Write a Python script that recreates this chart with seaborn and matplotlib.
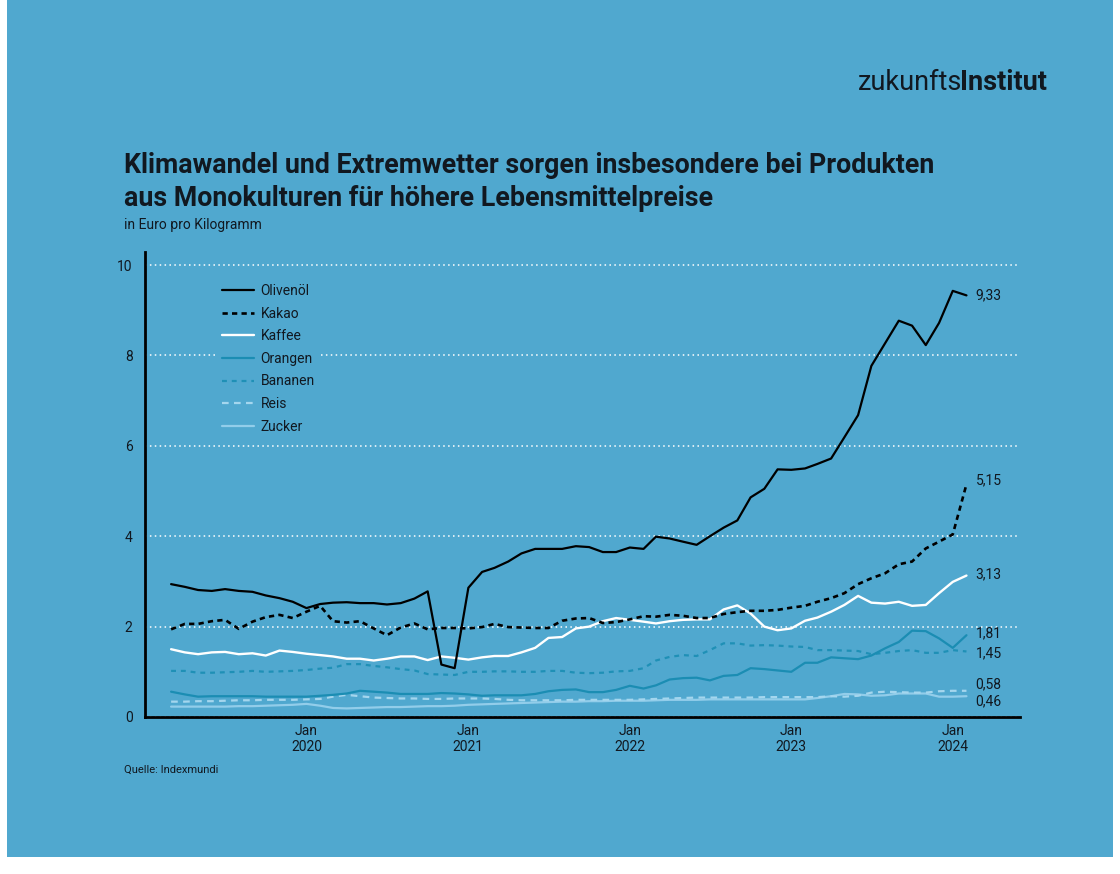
import pandas as pd
import numpy as np
import matplotlib
matplotlib.use("Agg")
import matplotlib.pyplot as plt
from matplotlib.patches import Rectangle
import seaborn as sns

# --------------------------------------------------------------
# data: monthly prices in Euro per kg, Mar 2019 .. Feb 2024
# --------------------------------------------------------------
months = pd.date_range("2019-03-01", periods=60, freq="MS")

olivenoel = [2.94, 2.88, 2.81, 2.79, 2.83, 2.79, 2.77, 2.69, 2.63, 2.55,
             2.41, 2.50, 2.53, 2.54, 2.52, 2.52, 2.49, 2.52, 2.62, 2.78, 1.16, 1.08,
             2.86, 3.21, 3.30, 3.44, 3.62, 3.72, 3.72, 3.72, 3.78, 3.76, 3.65, 3.65,
             3.75, 3.72, 3.99, 3.95, 3.88, 3.81, 4.00, 4.19, 4.35, 4.86, 5.05, 5.48,
             5.47, 5.50, 5.60, 5.72, 6.19, 6.68, 7.77, 8.27, 8.77, 8.66, 8.23, 8.72,
             9.43, 9.33]
kakao = [1.94, 2.06, 2.06, 2.12, 2.15, 1.95, 2.11, 2.21, 2.26, 2.19,
         2.33, 2.46, 2.12, 2.09, 2.12, 1.96, 1.81, 1.98, 2.07, 1.94, 1.97, 1.97,
         1.96, 1.99, 2.06, 1.99, 1.98, 1.97, 1.97, 2.13, 2.18, 2.19, 2.08, 2.10,
         2.16, 2.23, 2.22, 2.26, 2.24, 2.19, 2.19, 2.28, 2.32, 2.35, 2.35, 2.37,
         2.42, 2.46, 2.55, 2.63, 2.74, 2.94, 3.07, 3.18, 3.38, 3.44, 3.73, 3.88,
         4.04, 5.15]
kaffee = [1.50, 1.43, 1.39, 1.43, 1.44, 1.39, 1.41, 1.36, 1.47, 1.44,
          1.40, 1.37, 1.34, 1.29, 1.29, 1.25, 1.29, 1.34, 1.34, 1.26, 1.34, 1.31,
          1.27, 1.32, 1.35, 1.35, 1.43, 1.53, 1.75, 1.77, 1.96, 2.00, 2.12, 2.19,
          2.15, 2.11, 2.07, 2.12, 2.15, 2.16, 2.16, 2.38, 2.47, 2.29, 2.00, 1.92,
          1.96, 2.13, 2.20, 2.33, 2.48, 2.68, 2.53, 2.51, 2.55, 2.46, 2.48, 2.74,
          2.99, 3.13]
orangen = [0.56, 0.50, 0.45, 0.46, 0.46, 0.46, 0.46, 0.45, 0.45, 0.45,
           0.45, 0.47, 0.49, 0.52, 0.58, 0.56, 0.54, 0.51, 0.51, 0.51, 0.53, 0.52,
           0.50, 0.47, 0.48, 0.48, 0.48, 0.51, 0.57, 0.60, 0.61, 0.55, 0.55, 0.60,
           0.69, 0.63, 0.70, 0.83, 0.86, 0.87, 0.81, 0.91, 0.93, 1.08, 1.06, 1.03,
           1.00, 1.20, 1.20, 1.32, 1.30, 1.28, 1.36, 1.52, 1.66, 1.91, 1.90, 1.74,
           1.53, 1.81]
bananen = [1.02, 1.02, 0.98, 0.98, 0.99, 1.00, 1.02, 1.00, 1.01, 1.02,
           1.04, 1.07, 1.09, 1.17, 1.17, 1.13, 1.10, 1.06, 1.03, 0.95, 0.94, 0.93,
           1.00, 1.00, 1.01, 1.01, 1.00, 1.00, 1.02, 1.02, 0.98, 0.97, 0.98, 1.01,
           1.02, 1.08, 1.25, 1.33, 1.37, 1.35, 1.48, 1.63, 1.63, 1.58, 1.59, 1.58,
           1.56, 1.55, 1.48, 1.48, 1.47, 1.46, 1.39, 1.42, 1.46, 1.48, 1.42, 1.42,
           1.48, 1.45]
reis = [0.34, 0.34, 0.35, 0.35, 0.36, 0.37, 0.37, 0.38, 0.38, 0.38,
        0.39, 0.40, 0.45, 0.49, 0.46, 0.43, 0.42, 0.41, 0.41, 0.40, 0.40, 0.41,
        0.41, 0.41, 0.40, 0.38, 0.37, 0.37, 0.37, 0.37, 0.38, 0.38, 0.38, 0.38,
        0.38, 0.39, 0.40, 0.41, 0.42, 0.43, 0.43, 0.43, 0.43, 0.43, 0.44, 0.44,
        0.44, 0.44, 0.44, 0.46, 0.45, 0.47, 0.54, 0.56, 0.55, 0.54, 0.54, 0.57,
        0.58, 0.58]
zucker = [0.23, 0.23, 0.23, 0.23, 0.23, 0.24, 0.24, 0.25, 0.26, 0.27,
          0.29, 0.25, 0.20, 0.19, 0.20, 0.21, 0.22, 0.22, 0.23, 0.24, 0.24, 0.25,
          0.27, 0.28, 0.29, 0.30, 0.31, 0.32, 0.33, 0.34, 0.34, 0.35, 0.35, 0.36,
          0.36, 0.36, 0.37, 0.38, 0.38, 0.38, 0.39, 0.39, 0.39, 0.39, 0.39, 0.39,
          0.39, 0.39, 0.42, 0.46, 0.51, 0.50, 0.47, 0.48, 0.52, 0.52, 0.52, 0.45,
          0.45, 0.46]

names = ["Olivenöl", "Kakao", "Kaffee", "Orangen", "Bananen", "Reis", "Zucker"]
series = [olivenoel, kakao, kaffee, orangen, bananen, reis, zucker]

BG = "#50a8cf"
INK = "#111820"
colors = {"Olivenöl": "#000000", "Kakao": "#000000", "Kaffee": "#ffffff",
          "Orangen": "#1b8db3", "Bananen": "#1f90b6", "Reis": "#a4d6ee",
          "Zucker": "#92cdea"}
styles = {"Olivenöl": "-", "Kakao": (0, (2, 1.6)), "Kaffee": "-",
          "Orangen": "-", "Bananen": (0, (2.2, 2.2)), "Reis": (0, (3, 2.4)),
          "Zucker": "-"}
widths = {"Olivenöl": 1.6, "Kakao": 1.9, "Kaffee": 1.7, "Orangen": 1.6,
          "Bananen": 1.6, "Reis": 1.6, "Zucker": 1.6}
# vertical nudges for the end labels (pixels)
label_dy = {"Olivenöl": 0, "Kakao": 4, "Kaffee": 1, "Orangen": 2,
            "Bananen": -2, "Reis": 6, "Zucker": -5}

df = pd.DataFrame({"date": np.tile(months, len(names)),
                   "produkt": np.repeat(names, len(months)),
                   "preis": np.concatenate(series)})

# --------------------------------------------------------------
# figure
# --------------------------------------------------------------
sns.set_theme(style="white")
plt.rcParams["font.family"] = ["Roboto", "DejaVu Sans"]

fig = plt.figure(figsize=(11.2, 8.74), dpi=100, facecolor="white")
fig.patches.append(Rectangle((7 / 1120, 17 / 874), 1106 / 1120, 857 / 874,
                             transform=fig.transFigure, facecolor=BG,
                             edgecolor="none", zorder=-5))

ax = fig.add_axes([145 / 1120, (874 - 717) / 874, 875 / 1120, 465 / 874])
ax.set_facecolor("none")

for name in names[::-1]:
    sub = df[df["produkt"] == name]
    sns.lineplot(data=sub, x="date", y="preis", ax=ax, color=colors[name],
                 linestyle=styles[name], linewidth=widths[name], label=name)
    last = sub.iloc[-1]
    ax.annotate(f"{last['preis']:.2f}".replace(".", ","),
                xy=(last["date"], last["preis"]),
                xytext=(9, label_dy[name]), textcoords="offset pixels",
                ha="left", va="center", fontsize=10, color=INK)

ax.set_xlim(pd.Timestamp("2019-01-01"), pd.Timestamp("2024-06-01"))
ax.set_ylim(0, 10.29)
ax.set_yticks([0, 2, 4, 6, 8, 10])
ax.set_xticks(pd.to_datetime(["2020-01-01", "2021-01-01", "2022-01-01",
                              "2023-01-01", "2024-01-01"]))
ax.set_xticklabels([f"Jan\n{y}" for y in range(2020, 2025)])
ax.tick_params(axis="both", length=0, labelsize=10, labelcolor=INK)
ax.tick_params(axis="y", pad=9)
ax.tick_params(axis="x", pad=5)
ax.set_xlabel("")
ax.set_ylabel("")

ax.yaxis.grid(True, color="white", linewidth=1.1, linestyle=(0, (1, 2.2)))
ax.set_axisbelow(True)
sns.despine(ax=ax)
for s in ["left", "bottom"]:
    ax.spines[s].set_color("#000000")
    ax.spines[s].set_linewidth(2)

handles, labels = ax.get_legend_handles_labels()
leg = ax.legend(handles[::-1], labels[::-1], loc="upper left",
                bbox_to_anchor=(0.075, 0.955), frameon=True, fontsize=10,
                handlelength=2.3, handletextpad=0.5, labelspacing=0.62,
                borderpad=0.3, facecolor=BG, edgecolor="none", framealpha=1)
for t in leg.get_texts():
    t.set_color(INK)

# texts
fig.text(124 / 1120, 1 - 182 / 874,
         "Klimawandel und Extremwetter sorgen insbesondere bei Produkten\n"
         "aus Monokulturen für höhere Lebensmittelpreise",
         fontsize=19.3, fontweight="bold", color=INK, ha="left", va="center",
         linespacing=1.3)
fig.text(124 / 1120, 1 - 225 / 874, "in Euro pro Kilogramm", fontsize=10,
         color=INK, ha="left", va="center")
fig.text(124 / 1120, 1 - 770 / 874, "Quelle: Indexmundi", fontsize=8,
         color=INK, ha="left", va="center")
logo = fig.text(858 / 1120, 1 - 82 / 874, "zukunfts", fontsize=19.5,
                color=INK, ha="left", va="center")
fig.canvas.draw()
bb = logo.get_window_extent()
fig.text((bb.x1 - 2) / 1120, 1 - 82 / 874, "Institut", fontsize=19.5,
         fontweight="bold", color=INK, ha="left", va="center")

fig.savefig("out.png", dpi=100, facecolor="white")
